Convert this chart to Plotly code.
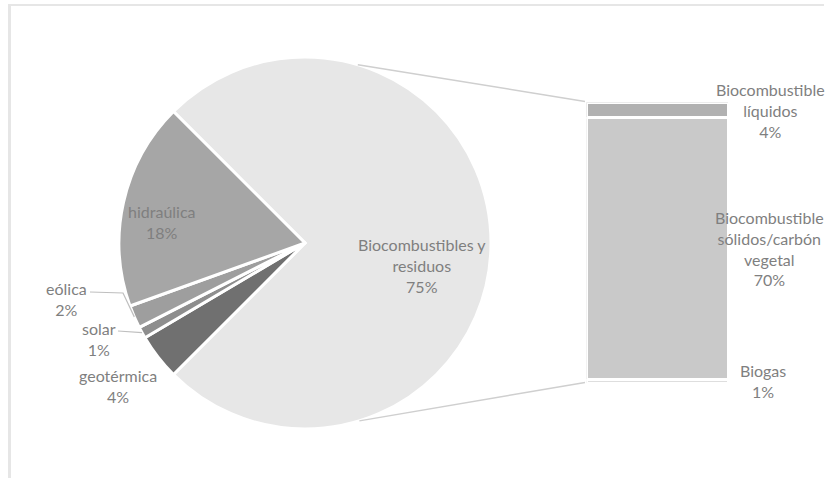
import math
import plotly.graph_objects as go

W, H = 825, 478

# ---------------- data ----------------
pie_labels = ["Biocombustibles y residuos", "geotérmica", "solar", "eólica", "hidraúlica"]
pie_values = [75, 4, 1, 2, 18]
pie_label_text = ["Biocombustibles y<br>residuos", "geotérmica", "solar", "eólica", "hidraúlica"]

bar_labels = ["Biogas", "Biocombustible sólidos/carbón vegetal", "Biocombustible líquidos"]
bar_values = [1, 70, 4]
bar_label_text = ["Biogas", "Biocombustible<br>sólidos/carbón<br>vegetal", "Biocombustible<br>líquidos"]

# ---------------- style ----------------
pie_colors = ["#e7e7e7", "#707070", "#8e8e8e", "#9e9e9e", "#a6a6a6"]
bar_colors = ["#dedede", "#c9c9c9", "#b1b1b1"]
TEXT = "#7f7f7f"
FONT = "Lato"
FS = 16

# pie geometry (pixels)
CX, CY, R = 305, 243, 186
ROT = -45  # degrees, clockwise from 12 o'clock

# label centres (pixels)
pie_label_pos = [(422, 265), (118, 386), (99, 339), (66, 299), (162, 222)]
bar_label_pos = [(763, 381), (769, 248), (770, 110.5)]

# bar placement (pixels)
BX0, BX1, BY0, BY1 = 586.5, 728.5, 102.5, 383.5


def px(x):
    return x / W


def py(y):
    return 1 - y / H


def on_circle(cw_deg, r=R):
    a = math.radians(cw_deg)
    return CX + r * math.sin(a), CY - r * math.cos(a)


total = sum(pie_values)
fig = go.Figure()

fig.add_trace(go.Pie(
    labels=pie_labels, values=pie_values, sort=False,
    direction="clockwise", rotation=ROT,
    marker=dict(colors=pie_colors, line=dict(color="white", width=3)),
    textinfo="none", hoverinfo="label+percent", showlegend=False,
    domain=dict(x=[px(CX - R), px(CX + R)], y=[py(CY + R), py(CY - R)]),
))

for lab, v, c in zip(bar_labels, bar_values, bar_colors):
    fig.add_trace(go.Bar(
        x=[0], y=[v], name=lab, width=1,
        marker=dict(color=c, line=dict(color="white", width=3)),
        showlegend=False, hoverinfo="name+y",
    ))

annotations = []
for txt, v, (x, y) in zip(pie_label_text, pie_values, pie_label_pos):
    annotations.append(dict(
        x=px(x), y=py(y), xref="paper", yref="paper", showarrow=False,
        text=f"{txt}<br>{round(v / total * 100)}%", align="center",
        xanchor="center", yanchor="middle",
        font=dict(family=FONT, size=FS, color=TEXT)))
for txt, v, (x, y) in zip(bar_label_text, bar_values, bar_label_pos):
    annotations.append(dict(
        x=px(x), y=py(y), xref="paper", yref="paper", showarrow=False,
        text=f"{txt}<br>{v}%", align="center",
        xanchor="center", yanchor="middle",
        font=dict(family=FONT, size=FS, color=TEXT)))

shapes = []
# chart-area border (top and left visible)
shapes.append(dict(type="line", xref="paper", yref="paper",
                   x0=px(8), x1=px(824), y0=py(5), y1=py(5),
                   line=dict(color="#e6e6e6", width=2)))
shapes.append(dict(type="line", xref="paper", yref="paper",
                   x0=px(9.5), x1=px(9.5), y0=py(4), y1=py(H),
                   line=dict(color="#e6e6e6", width=3)))

# leader lines for eólica and solar (to slice mid-angles)
cum = 0
mids = []
for v in pie_values:
    mids.append(ROT + (cum + v / 2) / total * 360)
    cum += v
leaders = {"eólica": [(90, 292), (123, 293)], "solar": [(118, 331)]}
for name, pts in leaders.items():
    i = pie_labels.index(name)
    ex, ey = on_circle(mids[i])
    allp = pts + [(ex, ey)]
    path = "M " + " L ".join(f"{px(a):.5f},{py(b):.5f}" for a, b in allp)
    shapes.append(dict(type="path", xref="paper", yref="paper", path=path,
                       line=dict(color="#bfbfbf", width=1.2)))

# connector lines from pie to bar
tx, ty = on_circle(16.5)
bx, by = on_circle(180 - 17)
shapes.append(dict(type="line", xref="paper", yref="paper",
                   x0=px(tx), y0=py(ty), x1=px(BX0 - 1.5), y1=py(BY0 - 1),
                   line=dict(color="#cfcfcf", width=1.5)))
shapes.append(dict(type="line", xref="paper", yref="paper",
                   x0=px(bx), y0=py(by), x1=px(BX0 - 1.5), y1=py(BY1 - 1),
                   line=dict(color="#cfcfcf", width=1.5)))

fig.update_layout(
    width=W, height=H, margin=dict(l=0, r=0, t=0, b=0),
    paper_bgcolor="white", plot_bgcolor="white",
    barmode="stack", bargap=0,
    xaxis=dict(domain=[px(BX0), px(BX1)], range=[-0.5, 0.5], visible=False, fixedrange=True),
    yaxis=dict(domain=[py(BY1), py(BY0)], range=[0, sum(bar_values)], visible=False, fixedrange=True),
    annotations=annotations, shapes=shapes,
    font=dict(family=FONT, size=FS, color=TEXT),
)

fig.write_html("out.html")
